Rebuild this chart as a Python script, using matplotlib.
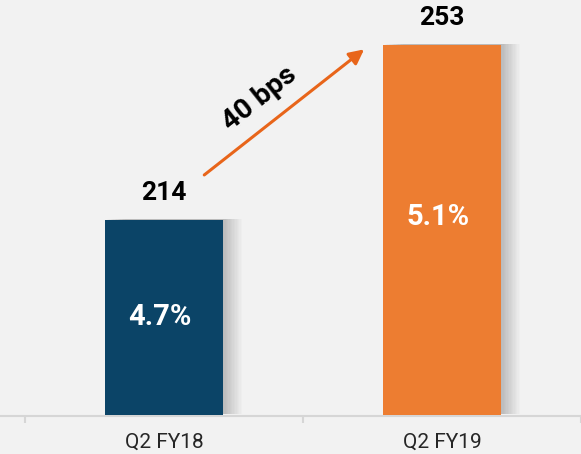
import matplotlib.pyplot as plt
import matplotlib.patheffects as pe

# data
categories = ["Q2 FY18", "Q2 FY19"]
values = [214, 253]
inner_labels = ["4.7%", "5.1%"]
colors = ["#0B4467", "#ED7D31"]
change_label = "40 bps"

plt.rcParams['font.family'] = ['Roboto', 'DejaVu Sans']

fig = plt.figure(figsize=(5.81, 4.54), dpi=100, facecolor="#F2F2F2")
ax = fig.add_axes([0, 0, 1, 1])
ax.set_facecolor("#F2F2F2")

base = 170.5
x = list(range(len(categories)))
# soft shadow: many faint offset copies
shadow = [pe.SimplePatchShadow(offset=(d, 0.5), shadow_rgbFace="#000000", alpha=0.016)
          for d in range(1, 15)] + [pe.Normal()]
bars = ax.bar(x, [v - base for v in values], bottom=base, width=0.423,
              color=colors, zorder=3)
for b in bars:
    b.set_path_effects(shadow)

# value labels
for xi, v, lab in zip(x, values, inner_labels):
    ax.text(xi, v + 4.4, str(v), ha="center", va="baseline",
            fontsize=19, fontweight="bold", color="black")
    ycen = (v + base) / 2 if xi == 0 else v - 38.4
    ax.text(xi - 0.015, ycen, lab, ha="center", va="center",
            fontsize=21, fontweight="bold", color="white", zorder=4)

# arrow showing the change
ax.annotate("", xy=(x[1] - 0.28, values[1] - 1), xytext=(x[0] + 0.145, values[0] + 10),
            arrowprops=dict(arrowstyle="-|>", color="#E8651A", lw=2.2,
                            mutation_scale=22, shrinkA=0, shrinkB=0))
ax.text(0.342, 241.0, change_label, rotation=38.5, ha="center", va="center",
        fontsize=20.5, fontweight="bold", color="black")

# axis
ax.set_xlim(-0.5896, 1.4928)
ax.set_ylim(161.8, 263.0)
for s in ["top", "right", "left"]:
    ax.spines[s].set_visible(False)
ax.spines["bottom"].set_position(("data", base - 0.2))
ax.spines["bottom"].set_color("#D6D6D6")
ax.spines["bottom"].set_linewidth(1.5)
ax.set_yticks([])
ax.set_xticks(x)
ax.set_xticklabels(categories, fontsize=15, color="#262626")
ax.tick_params(axis="x", which="major", length=0, pad=12)
ax.set_xticks([-0.5, 0.5, 1.5], minor=True)
ax.tick_params(axis="x", which="minor", length=5, width=1.5, color="#D6D6D6", direction="out")

plt.savefig("out.png", dpi=100, facecolor=fig.get_facecolor())
